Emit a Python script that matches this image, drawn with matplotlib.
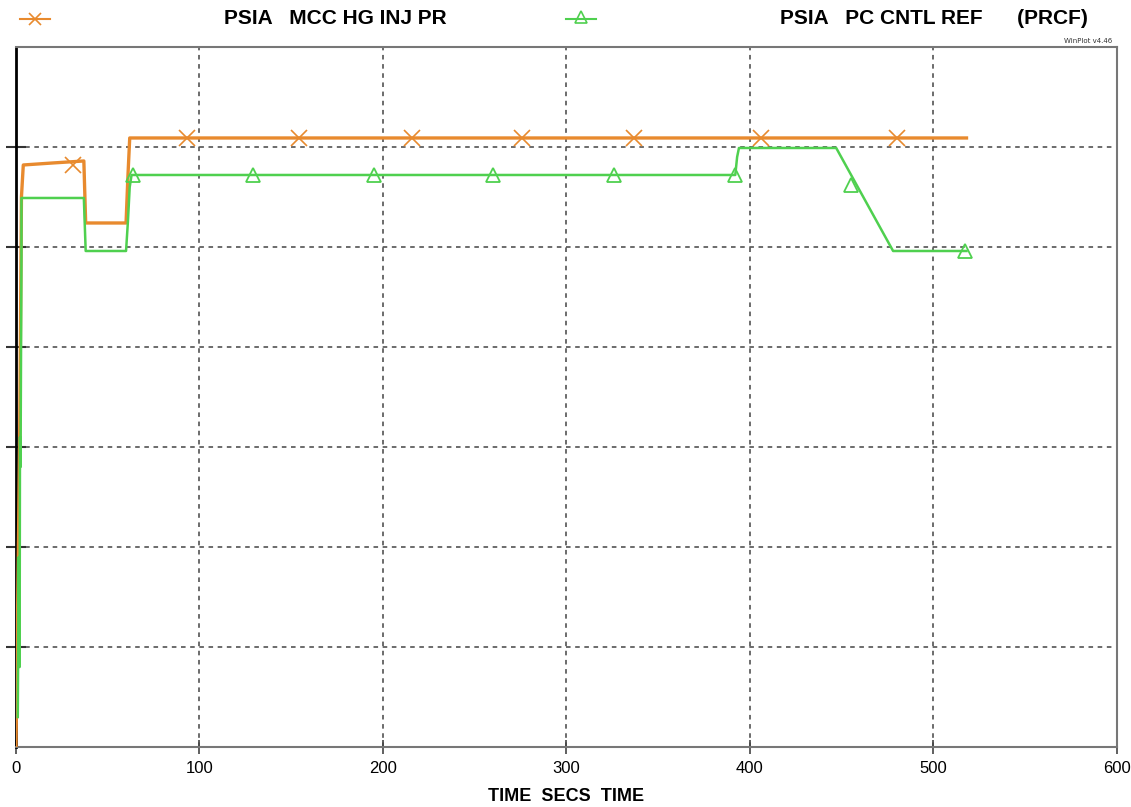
import numpy as np
import matplotlib.pyplot as plt
from matplotlib.lines import Line2D

# MCC HG INJ PR (orange) - step trace, grid units (no y labels on chart)
mcc_t = [0, 2, 3, 4, 20, 37, 38, 60, 61, 62, 518]
mcc_y = [0.0, 3.0, 5.5, 5.82, 5.84, 5.86, 5.24, 5.24, 5.7, 6.09, 6.09]
mcc_mark_t = [31, 93, 154, 216, 276, 337, 406, 480]
mcc_mark_y = [5.82, 6.09, 6.09, 6.09, 6.09, 6.09, 6.09, 6.09]

# PC CNTL REF (green)
ref_t = [1, 1.5, 2, 2.2, 2.5, 3, 3, 37, 38, 60, 61, 62, 63, 392, 393, 394, 447, 478, 518]
ref_y = [0.3, 1.9, 0.8, 3.1, 2.8, 4.9, 5.49, 5.49, 4.96, 4.96, 5.25, 5.6, 5.72, 5.72, 5.9, 5.99, 5.99, 4.96, 4.96]
ref_mark_t = [64, 129, 195, 260, 326, 392, 455, 517]
ref_mark_y = [5.72, 5.72, 5.72, 5.72, 5.72, 5.72, 5.62, 4.96]

xticks = [0, 100, 200, 300, 400, 500, 600]

orange = '#e88a2e'
green = '#4fd04f'

arial = ['Liberation Sans', 'DejaVu Sans']

fig = plt.figure(figsize=(11.31, 8.07), dpi=100)
ax = fig.add_axes([0.0141, 0.0743, 0.9735, 0.8675])

ax.plot(mcc_t, mcc_y, color=orange, lw=2.4, zorder=3)
ax.plot(mcc_mark_t, mcc_mark_y, ls='none', marker='x', ms=11, mew=1.2, color=orange, zorder=4)
ax.plot(ref_t, ref_y, color=green, lw=1.8, zorder=3)
ax.plot(ref_mark_t, ref_mark_y, ls='none', marker='^', ms=10, mew=1.3, mfc='none', mec=green, zorder=4)

ax.set_xlim(0, 600)
ax.set_ylim(0, 7)
ax.set_xticks(xticks)
ax.set_xticklabels([str(v) for v in xticks], fontsize=12, family=arial)
ax.set_yticks(np.arange(1, 7))
ax.set_yticklabels([])
ax.tick_params(axis='x', direction='inout', length=10, width=1.2, color='#444444', pad=5)
ax.tick_params(axis='y', direction='inout', length=14, width=1.5, color='#333333')
ax.grid(True, color='#444444', ls=(0, (3, 3)), lw=1.1)

for s in ['top', 'right', 'bottom']:
    ax.spines[s].set_color('#777777')
    ax.spines[s].set_linewidth(1.5)
ax.spines['left'].set_color('black')
ax.spines['left'].set_linewidth(2)

ax.set_xlabel('TIME  SECS  TIME', fontsize=13, fontweight='bold', family=arial, labelpad=9)

# legend along the top
fig.add_artist(Line2D([0.018, 0.044], [0.977, 0.977], color=orange, lw=1.5))
fig.add_artist(Line2D([0.031], [0.977], color=orange, marker='x', ms=9, mew=1.2))
fig.text(0.198, 0.977, 'PSIA   MCC HG INJ PR', fontsize=15, fontweight='bold',
         family=arial, va='center', ha='left')
fig.add_artist(Line2D([0.5, 0.527], [0.977, 0.977], color=green, lw=1.5))
fig.add_artist(Line2D([0.5135], [0.979], color=green, marker='^', ms=9, mfc='none', mec=green, mew=1.2))
fig.text(0.69, 0.977, 'PSIA   PC CNTL REF      (PRCF)', fontsize=15, fontweight='bold',
         family=arial, va='center', ha='left')
fig.text(0.983, 0.949, 'WinPlot v4.46', fontsize=5, ha='right', va='center', color='#333333')

fig.savefig('out.png', dpi=100)
